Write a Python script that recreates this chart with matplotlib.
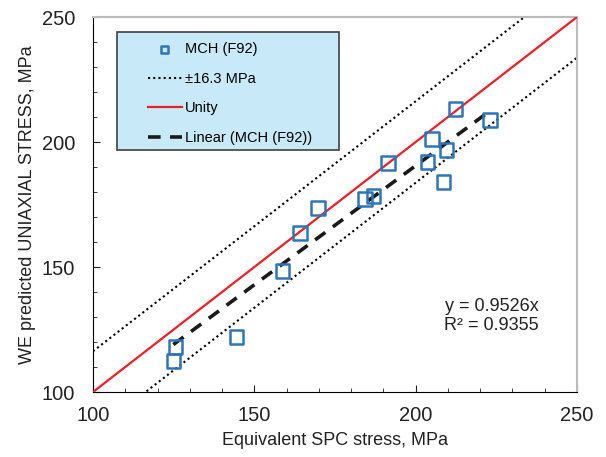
import numpy as np
import matplotlib
matplotlib.use("Agg")
import matplotlib.pyplot as plt
from matplotlib.patches import Rectangle
from matplotlib.ticker import MultipleLocator

plt.rcParams['font.family'] = ['Liberation Sans', 'DejaVu Sans']

# data
spc_stress = [212.4, 223.1, 205.0, 209.6, 203.6, 191.4, 208.6, 184.3, 186.9,
              169.8, 164.1, 158.7, 144.5, 125.5, 124.9]
we_stress = [213.2, 208.9, 201.2, 196.8, 192.0, 191.6, 183.9, 177.3, 178.3,
             173.6, 163.5, 148.4, 121.9, 117.9, 112.4]
band = 16.3
slope = 0.9526
r2 = 0.9355

fig = plt.figure(figsize=(6.06, 4.57), dpi=100)
ax = fig.add_axes([93 / 606, 1 - 392 / 457, 484 / 606, 375 / 457])

grid = np.array([100, 250])
ax.plot(grid, grid + band, color='black', linestyle=(0, (1, 1.5)), linewidth=1.5,
        label='\u00b116.3 MPa', zorder=2)
ax.plot(grid, grid - band, color='black', linestyle=(0, (1, 1.5)), linewidth=1.5, zorder=2)
ax.plot(grid, grid, color='#E8202A', linewidth=1.6, label='Unity', zorder=3)

xfit = np.array([min(spc_stress), max(spc_stress)])
ax.plot(xfit, slope * xfit, color='#1a1a1a', linestyle=(0, (3.5, 2.6)), linewidth=2.6,
        label='Linear (MCH (F92))', zorder=4)

ax.scatter(spc_stress, we_stress, marker='s', s=95, facecolors='none',
           edgecolors='#2E75B6', linewidths=1.8, label='MCH (F92)', zorder=5)

ax.set_xlim(100, 250)
ax.set_ylim(100, 250)
ax.xaxis.set_major_locator(MultipleLocator(50))
ax.yaxis.set_major_locator(MultipleLocator(50))
ax.xaxis.set_minor_locator(MultipleLocator(10))
ax.yaxis.set_minor_locator(MultipleLocator(10))
ax.tick_params(which='both', direction='in', labelsize=14.5, colors='#222222')
ax.tick_params(which='major', length=5, width=0.8)
ax.tick_params(which='minor', length=3, width=0.6)
ax.tick_params(axis='x', which='major', pad=10)
ax.tick_params(axis='y', which='major', pad=13)

for side in ['top', 'right']:
    ax.spines[side].set_color('#BBBBBB')
    ax.spines[side].set_linewidth(1.5)
ax.spines['left'].set_color('black')
ax.spines['bottom'].set_color('black')

ax.set_xlabel('Equivalent SPC stress, MPa', fontsize=13, color='#222222', labelpad=5)
ax.set_ylabel('WE predicted UNIAXIAL STRESS, MPa', fontsize=13, color='#222222', labelpad=4)

ax.text(238, 130.5, 'y = 0.9526x\nR\u00b2 = 0.9355', fontsize=13, color='#222222',
        ha='right', va='center', linespacing=1.15)

# legend box drawn separately so the entries can sit indented like the original
ax.add_patch(Rectangle((24 / 484, 1 - 133 / 375), 222 / 484, 118 / 375,
                       transform=ax.transAxes, facecolor='#C7E9F8', edgecolor='#404040',
                       linewidth=1.2, zorder=6))

handles, labels = ax.get_legend_handles_labels()
order = [3, 0, 1, 2]
leg = ax.legend([handles[i] for i in order], [labels[i] for i in order],
                loc='upper left', bbox_to_anchor=((148 - 93) / 484, (392 - 42) / 375),
                fontsize=10.5, frameon=False,
                labelspacing=1.07, handlelength=2.3, handletextpad=0.25,
                borderpad=0, markerscale=0.5, borderaxespad=0)
leg.set_zorder(7)

fig.savefig('out.png', dpi=100)
